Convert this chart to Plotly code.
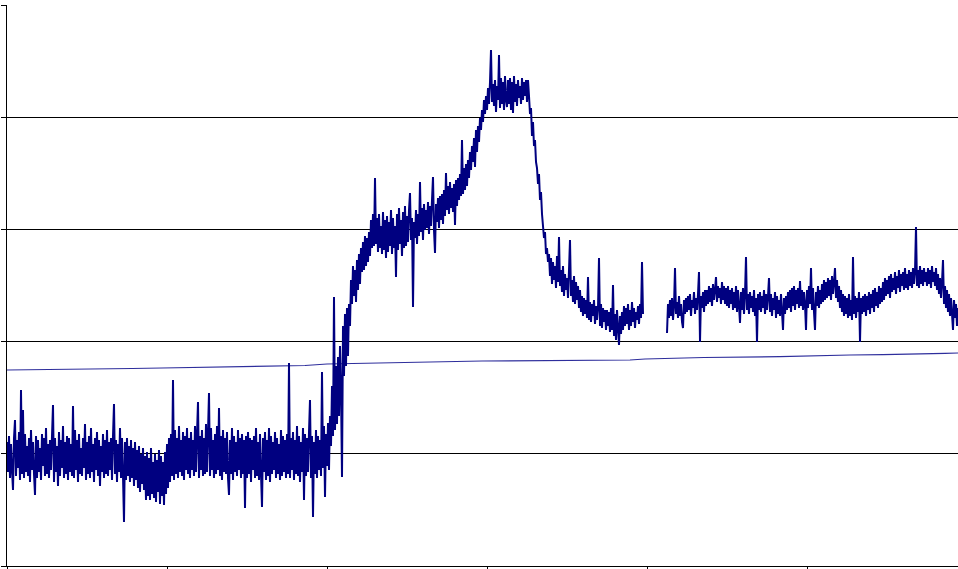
import plotly.graph_objects as go

# Sampled signal (arbitrary units), one reading per time step.
SAMPLE_STEP = 1
signal = [
    124, 94, 130, 88, 122, 96, 76, 128, 146, 90, 126, 98, 134, 86, 176, 92, 156, 88, 132, 94,
    120, 90, 128, 84, 136, 96, 124, 92, 71, 130, 88, 126, 94, 118, 86, 132, 100, 128, 90, 138,
    92, 122, 88, 126, 96, 130, 161, 84, 128, 94, 120, 80, 134, 90, 126, 98, 140, 88, 124, 92,
    130, 86, 128, 94, 122, 90, 160, 88, 136, 96, 126, 84, 132, 92, 118, 90, 128, 98, 142, 86,
    124, 92, 130, 88, 138, 94, 122, 84, 128, 96, 134, 90, 126, 80, 120, 94, 132, 88, 126, 92,
    136, 90, 124, 96, 128, 86, 130, 162, 92, 126, 84, 122, 94, 138, 88, 128, 90, 44, 124, 86,
    128, 90, 120, 84, 126, 88, 118, 80, 124, 86, 116, 78, 120, 74, 112, 82, 118, 76, 110, 66,
    114, 70, 108, 66, 118, 72, 104, 68, 112, 64, 106, 74, 116, 62, 110, 70, 104, 61, 114, 72,
    122, 78, 128, 84, 132, 90, 186, 86, 136, 92, 128, 88, 140, 94, 126, 90, 134, 86, 130, 96,
    138, 92, 128, 88, 134, 96, 126, 90, 140, 94, 132, 164, 88, 130, 96, 136, 90, 128, 92, 142,
    94, 134, 173, 90, 138, 96, 126, 88, 132, 92, 140, 96, 158, 90, 130, 86, 136, 94, 128, 92,
    134, 88, 71, 126, 92, 138, 86, 130, 94, 124, 90, 136, 96, 128, 88, 132, 92, 126, 58, 130,
    88, 134, 92, 128, 84, 126, 96, 130, 88, 138, 90, 124, 86, 132, 92, 59, 128, 94, 134, 86,
    126, 90, 138, 84, 130, 92, 124, 96, 134, 88, 128, 92, 122, 86, 136, 90, 130, 94, 126, 88,
    132, 92, 203, 88, 128, 96, 134, 86, 126, 92, 140, 90, 130, 84, 124, 94, 138, 66, 132, 90,
    128, 94, 134, 166, 88, 130, 49, 124, 92, 136, 88, 130, 96, 126, 90, 194, 98, 140, 69, 132,
    100, 143, 96, 150, 120, 180, 130, 269, 136, 200, 142, 209, 150, 220, 176, 89, 240, 190, 252, 200,
    258, 210, 262, 240, 286, 262, 300, 270, 296, 264, 306, 276, 312, 282, 318, 294, 324, 296, 330, 300,
    328, 304, 334, 310, 346, 318, 352, 320, 388, 322, 348, 314, 352, 318, 340, 312, 354, 316, 346, 308,
    350, 314, 344, 320, 356, 312, 348, 318, 340, 289, 352, 316, 358, 322, 346, 310, 354, 318, 360, 320,
    350, 324, 356, 373, 326, 348, 259, 344, 328, 356, 322, 352, 330, 384, 334, 358, 326, 362, 336, 356,
    338, 364, 332, 360, 340, 366, 389, 336, 313, 362, 344, 368, 338, 370, 346, 372, 342, 376, 350, 393,
    356, 380, 352, 384, 358, 378, 354, 382, 341, 386, 360, 388, 366, 392, 370, 426, 372, 398, 376, 402,
    380, 406, 388, 414, 396, 420, 404, 428, 399, 436, 414, 440, 424, 448, 436, 456, 444, 466, 452, 470,
    456, 478, 462, 484, 516, 464, 482, 460, 486, 454, 480, 466, 511, 458, 488, 462, 484, 456, 490, 466,
    459, 486, 462, 488, 456, 484, 453, 490, 464, 482, 460, 486, 468, 480, 462, 488, 466, 484, 470, 486,
    464, 486, 470, 452, 458, 430, 444, 420, 426, 404, 398, 382, 392, 366, 374, 352, 340, 328, 334, 312,
    318, 304, 312, 290, 308, 282, 304, 286, 300, 278, 310, 284, 329, 280, 296, 274, 300, 270, 292, 276,
    288, 268, 296, 326, 270, 286, 264, 290, 262, 284, 266, 280, 258, 276, 254, 270, 250, 268, 252, 266,
    248, 289, 246, 264, 244, 262, 250, 266, 242, 260, 246, 258, 308, 240, 262, 238, 258, 244, 256, 236,
    256, 240, 254, 234, 258, 236, 281, 230, 252, 226, 256, 238, 221, 250, 232, 254, 236, 260, 240, 258,
    242, 262, 236, 256, 240, 264, 244, 258, 238, 254, 246, 260, 242, 262, 248, 304, 252,
    None, None, None, None, None, None, None, None, None, None, None, None,
    None, None, None, None, None, None, None, None, None, None, None,
    233, 262, 248, 266, 250, 268, 246, 260, 298, 252, 264, 248, 270, 250, 262, 244, 238, 266, 252, 268,
    254, 270, 256, 272, 250, 266, 258, 274, 252, 268, 256, 272, 294, 224, 270, 258, 274, 254, 276, 260,
    276, 262, 280, 264, 278, 260, 282, 266, 276, 289, 264, 280, 268, 278, 262, 284, 266, 280, 262, 278,
    260, 280, 258, 276, 262, 278, 256, 274, 258, 280, 254, 276, 260, 243, 274, 256, 278, 252, 272, 309,
    256, 272, 252, 274, 258, 270, 254, 276, 250, 268, 224, 272, 256, 274, 254, 270, 258, 276, 252, 272,
    256, 270, 288, 254, 272, 250, 268, 256, 274, 248, 270, 252, 266, 250, 272, 254, 236, 268, 252, 270,
    256, 274, 258, 276, 254, 278, 260, 280, 256, 276, 262, 278, 258, 285, 260, 276, 256, 274, 262, 236,
    276, 258, 280, 262, 298, 256, 278, 254, 236, 274, 260, 280, 258, 276, 262, 282, 264, 286, 266, 284,
    268, 288, 270, 286, 266, 290, 272, 284, 298, 268, 286, 264, 280, 258, 276, 254, 272, 250, 270, 252,
    268, 248, 272, 250, 266, 246, 309, 252, 270, 248, 268, 254, 274, 224, 268, 252, 270, 254, 272, 250,
    270, 256, 274, 252, 272, 258, 276, 254, 278, 260, 274, 258, 280, 262, 278, 264, 284, 266, 288, 270,
    286, 272, 290, 268, 292, 274, 288, 276, 294, 272, 290, 278, 296, 274, 292, 280, 294, 276, 298, 278,
    292, 276, 296, 280, 294, 278, 298, 282, 294, 339, 280, 296, 278, 300, 282, 296, 280, 298, 284, 294,
    280, 298, 282, 296, 278, 300, 284, 294, 280, 298, 276, 292, 272, 288, 268, 284, 306, 262, 280, 258,
    276, 254, 272, 250, 268, 252, 236, 266, 248, 262, 240, 258,
]
signal_time = [SAMPLE_STEP * i for i in range(len(signal))]

# Slowly rising reference line
ref_time = [0, 66, 125, 155, 223, 298, 320, 373, 413, 475, 623, 638, 697, 773, 843, 876, 938, 951]
ref_level = [196, 196.5, 197.5, 198, 199, 200.5, 202, 203, 204, 205, 206, 207, 208.5, 209.3, 211, 211.3, 212.7, 213]

fig = go.Figure()
fig.add_trace(go.Scatter(
    x=ref_time, y=ref_level, mode="lines",
    line=dict(color="#2e2e9c", width=1.2), showlegend=False,
))
fig.add_trace(go.Scatter(
    x=signal_time, y=signal, mode="lines",
    line=dict(color="#000080", width=2, simplify=False), showlegend=False,
    connectgaps=False,
))

fig.update_layout(
    width=958, height=569,
    margin=dict(l=7, r=0, t=5, b=3),
    paper_bgcolor="white", plot_bgcolor="white",
    showlegend=False,
)
fig.update_xaxes(
    range=[0, 951], tick0=0, dtick=160, showgrid=False, zeroline=False,
    showline=True, linecolor="black", linewidth=1,
    ticks="outside", ticklen=4, tickcolor="black", showticklabels=False,
)
fig.update_yaxes(
    range=[0, 561], tick0=0, dtick=112.2, showgrid=True, gridcolor="black",
    gridwidth=1, zeroline=False,
    showline=True, linecolor="black", linewidth=1,
    ticks="outside", ticklen=5, tickcolor="black", showticklabels=False,
)

fig.write_html(
    "out.html",
    config={"displayModeBar": False},
    post_script="document.body.style.margin='0px';",
)
